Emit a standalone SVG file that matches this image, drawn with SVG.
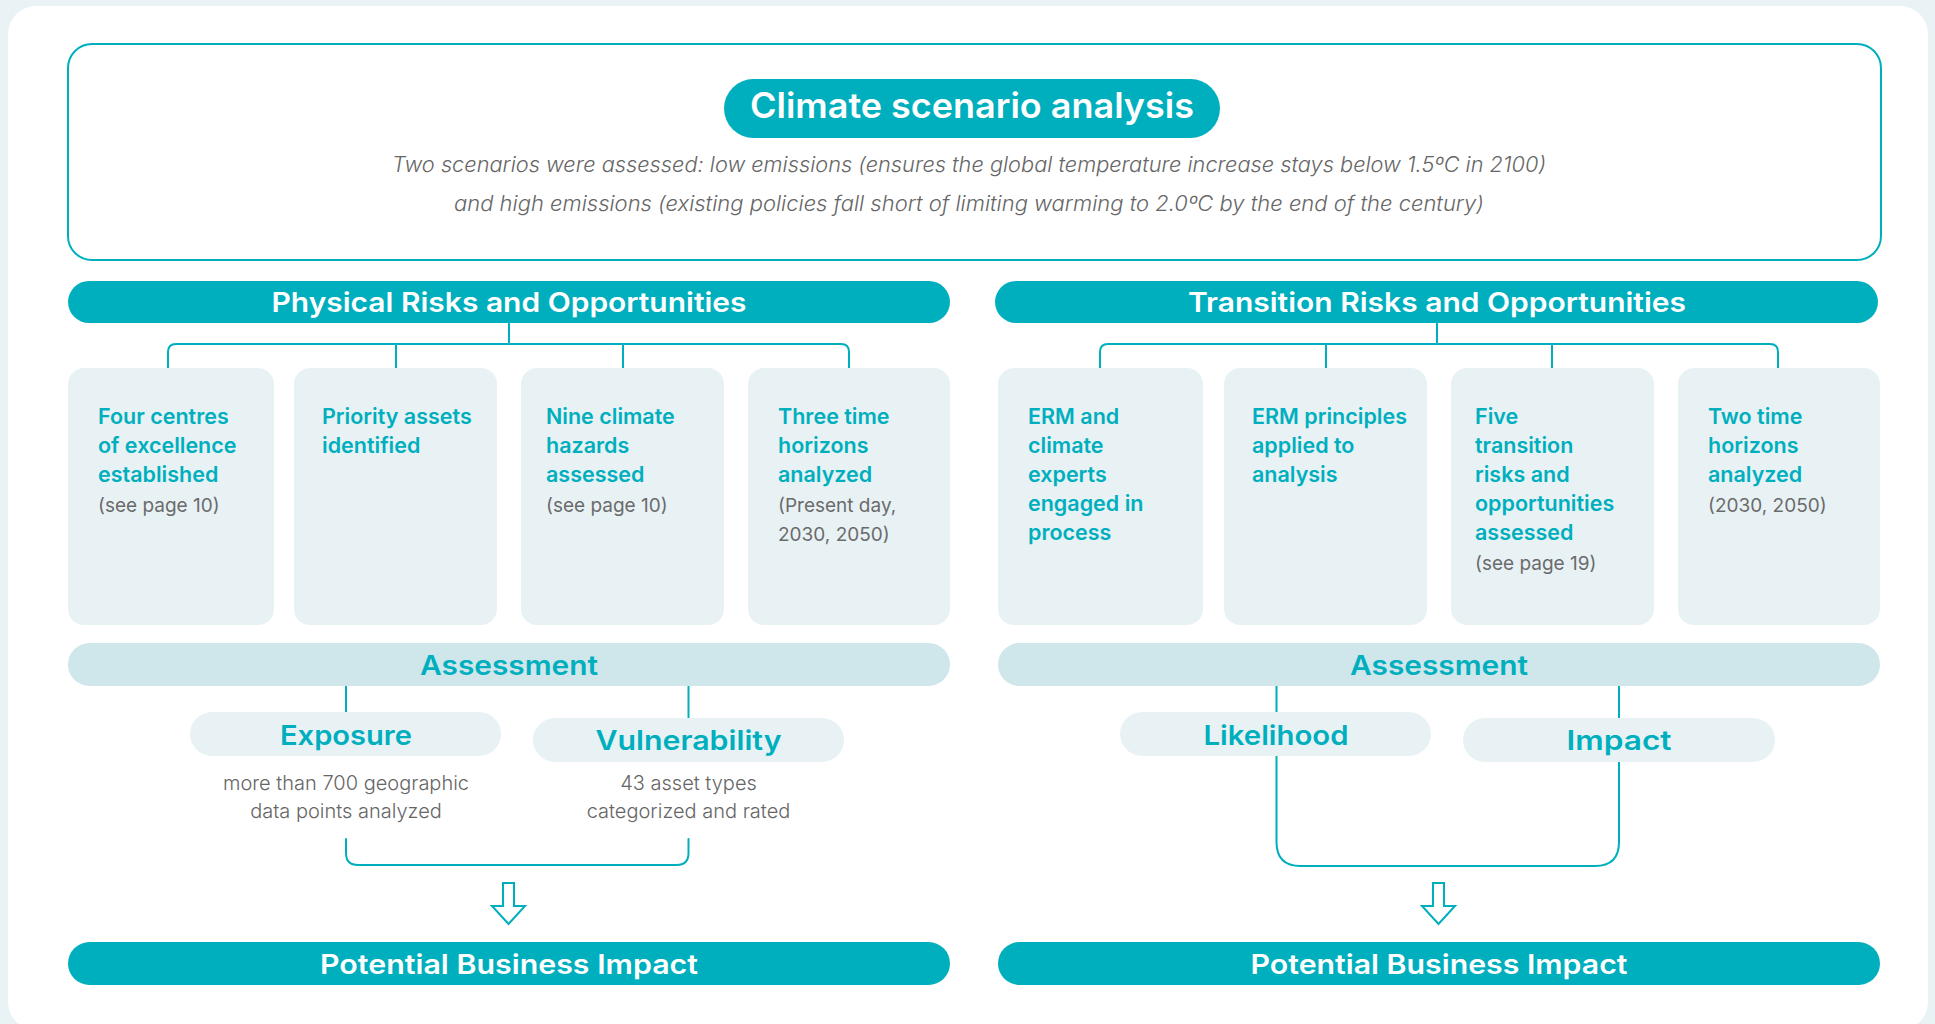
<svg xmlns="http://www.w3.org/2000/svg" width="1935" height="1024" viewBox="0 0 1935 1024">
<style>
.bg{fill:#e9f2f5}
.card-bg{fill:#ffffff}
.frame{fill:#ffffff;stroke:#00afbe;stroke-width:2}
.pill{fill:#00afbe}
.box{fill:#e8f2f5}
.bar{fill:#cfe6eb}
.conn{fill:none;stroke:#00afbe;stroke-width:2;stroke-linecap:round}
.arrow{fill:#ffffff;stroke:#00afbe;stroke-width:2;stroke-linejoin:miter}
.t-title{font-family:Inter,"Open Sans","Liberation Sans",sans-serif;font-weight:600;font-size:35px;fill:#ffffff;text-anchor:middle}
.t-sub{font-family:Inter,"Open Sans","Liberation Sans",sans-serif;font-weight:300;font-style:italic;font-size:21px;fill:#666666;text-anchor:middle}
.t-head{font-family:Inter,"Open Sans","Liberation Sans",sans-serif;font-weight:600;font-size:27px;fill:#ffffff;text-anchor:middle}
.t-asm{font-family:Inter,"Open Sans","Liberation Sans",sans-serif;font-weight:600;font-size:27px;fill:#00afbe;text-anchor:middle}
.t-card{font-family:Inter,"Open Sans","Liberation Sans",sans-serif;font-weight:600;font-size:21.5px;fill:#00afbe}
.t-note{font-family:Inter,"Open Sans","Liberation Sans",sans-serif;font-weight:400;font-size:19px;fill:#6b6b6b}
.t-desc{font-family:Inter,"Open Sans","Liberation Sans",sans-serif;font-weight:300;font-size:20px;fill:#666666;text-anchor:middle}
</style>
<rect class="bg" x="0" y="0" width="1935" height="1024"/>
<rect class="card-bg" x="8" y="6" width="1920" height="1024" rx="28"/>

<g id="scenario">
  <rect class="frame" x="68" y="44" width="1813" height="216" rx="24"/>
  <rect class="pill" x="724" y="79" width="496" height="59" rx="29.5"/>
  <text class="t-title" x="972" y="118" textLength="444" lengthAdjust="spacingAndGlyphs">Climate scenario analysis</text>
  <text class="t-sub" x="969" y="172" textLength="1154" lengthAdjust="spacingAndGlyphs">Two scenarios were assessed: low emissions (ensures the global temperature increase stays below 1.5ºC in 2100)</text>
  <text class="t-sub" x="969" y="211" textLength="1030" lengthAdjust="spacingAndGlyphs">and high emissions (existing policies fall short of limiting warming to 2.0ºC by the end of the century)</text>
</g>

<g id="connectors">
  <path class="conn" d="M509,323 V344 M168,369 V352 Q168,344 176,344 H841 Q849,344 849,352 V369 M396,344 V368 M623,344 V368"/>
  <path class="conn" d="M1437,323 V344 M1100,369 V352 Q1100,344 1108,344 H1770 Q1778,344 1778,352 V369 M1326,344 V368 M1552,344 V368"/>
  <path class="conn" d="M346,686 V712 M688.5,686 V718 M346,839 V853 Q346,865 358,865 H676.5 Q688.5,865 688.5,853 V839"/>
  <path class="conn" d="M1276.5,686 V712 M1619,686 V718 M1276.5,756 V842 Q1276.5,866 1300.5,866 H1595 Q1619,866 1619,842 V762"/>
  <path class="arrow" d="M503,883 H514 V906 H525 L508.5,924 L492,906 H503 Z"/>
  <path class="arrow" d="M1433,883 H1444 V906 H1455 L1438.5,924 L1422,906 H1433 Z"/>
</g>

<g id="physical-header">
  <rect class="pill" x="68" y="281" width="882" height="42" rx="21"/>
  <text class="t-head" x="509" y="312" textLength="475" lengthAdjust="spacingAndGlyphs">Physical Risks and Opportunities</text>
</g>
<g id="transition-header">
  <rect class="pill" x="995" y="281" width="883" height="42" rx="21"/>
  <text class="t-head" x="1437" y="312" textLength="498" lengthAdjust="spacingAndGlyphs">Transition Risks and Opportunities</text>
</g>

<g id="p-card-1">
  <rect class="box" x="68" y="368" width="206" height="257" rx="16"/>
  <text class="t-card" x="98" y="424">Four centres</text>
  <text class="t-card" x="98" y="453">of excellence</text>
  <text class="t-card" x="98" y="482">established</text>
  <text class="t-note" x="98" y="512">(see page 10)</text>
</g>
<g id="p-card-2">
  <rect class="box" x="294" y="368" width="203" height="257" rx="16"/>
  <text class="t-card" x="322" y="424">Priority assets</text>
  <text class="t-card" x="322" y="453">identified</text>
</g>
<g id="p-card-3">
  <rect class="box" x="521" y="368" width="203" height="257" rx="16"/>
  <text class="t-card" x="546" y="424">Nine climate</text>
  <text class="t-card" x="546" y="453">hazards</text>
  <text class="t-card" x="546" y="482">assessed</text>
  <text class="t-note" x="546" y="512">(see page 10)</text>
</g>
<g id="p-card-4">
  <rect class="box" x="748" y="368" width="202" height="257" rx="16"/>
  <text class="t-card" x="778" y="424">Three time</text>
  <text class="t-card" x="778" y="453">horizons</text>
  <text class="t-card" x="778" y="482">analyzed</text>
  <text class="t-note" x="778" y="512">(Present day,</text>
  <text class="t-note" x="778" y="541">2030, 2050)</text>
</g>

<g id="t-card-1">
  <rect class="box" x="998" y="368" width="205" height="257" rx="16"/>
  <text class="t-card" x="1028" y="424">ERM and</text>
  <text class="t-card" x="1028" y="453">climate</text>
  <text class="t-card" x="1028" y="482">experts</text>
  <text class="t-card" x="1028" y="511">engaged in</text>
  <text class="t-card" x="1028" y="540">process</text>
</g>
<g id="t-card-2">
  <rect class="box" x="1224" y="368" width="203" height="257" rx="16"/>
  <text class="t-card" x="1252" y="424">ERM principles</text>
  <text class="t-card" x="1252" y="453">applied to</text>
  <text class="t-card" x="1252" y="482">analysis</text>
</g>
<g id="t-card-3">
  <rect class="box" x="1451" y="368" width="203" height="257" rx="16"/>
  <text class="t-card" x="1475" y="424">Five</text>
  <text class="t-card" x="1475" y="453">transition</text>
  <text class="t-card" x="1475" y="482">risks and</text>
  <text class="t-card" x="1475" y="511">opportunities</text>
  <text class="t-card" x="1475" y="540">assessed</text>
  <text class="t-note" x="1475" y="570">(see page 19)</text>
</g>
<g id="t-card-4">
  <rect class="box" x="1678" y="368" width="202" height="257" rx="16"/>
  <text class="t-card" x="1708" y="424">Two time</text>
  <text class="t-card" x="1708" y="453">horizons</text>
  <text class="t-card" x="1708" y="482">analyzed</text>
  <text class="t-note" x="1708" y="512">(2030, 2050)</text>
</g>

<g id="p-assessment">
  <rect class="bar" x="68" y="643" width="882" height="43" rx="21.5"/>
  <text class="t-asm" x="509" y="675" textLength="178" lengthAdjust="spacingAndGlyphs">Assessment</text>
</g>
<g id="t-assessment">
  <rect class="bar" x="998" y="643" width="882" height="43" rx="21.5"/>
  <text class="t-asm" x="1439" y="675" textLength="178" lengthAdjust="spacingAndGlyphs">Assessment</text>
</g>

<g id="exposure">
  <rect class="box" x="190" y="712" width="311" height="44" rx="22"/>
  <text class="t-asm" x="346" y="745" textLength="132" lengthAdjust="spacingAndGlyphs">Exposure</text>
  <text class="t-desc" x="346" y="790">more than 700 geographic</text>
  <text class="t-desc" x="346" y="818">data points analyzed</text>
</g>
<g id="vulnerability">
  <rect class="box" x="533" y="718" width="311" height="44" rx="22"/>
  <text class="t-asm" x="688.5" y="750" textLength="186" lengthAdjust="spacingAndGlyphs">Vulnerability</text>
  <text class="t-desc" x="688.5" y="790">43 asset types</text>
  <text class="t-desc" x="688.5" y="818">categorized and rated</text>
</g>
<g id="likelihood">
  <rect class="box" x="1120" y="712" width="311" height="44" rx="22"/>
  <text class="t-asm" x="1276" y="745" textLength="145" lengthAdjust="spacingAndGlyphs">Likelihood</text>
</g>
<g id="impact">
  <rect class="box" x="1463" y="718" width="312" height="44" rx="22"/>
  <text class="t-asm" x="1619" y="750" textLength="105" lengthAdjust="spacingAndGlyphs">Impact</text>
</g>

<g id="p-impact">
  <rect class="pill" x="68" y="942" width="882" height="43" rx="21.5"/>
  <text class="t-head" x="509" y="974" textLength="378" lengthAdjust="spacingAndGlyphs">Potential Business Impact</text>
</g>
<g id="t-impact">
  <rect class="pill" x="998" y="942" width="882" height="43" rx="21.5"/>
  <text class="t-head" x="1439" y="974" textLength="377" lengthAdjust="spacingAndGlyphs">Potential Business Impact</text>
</g>
</svg>
